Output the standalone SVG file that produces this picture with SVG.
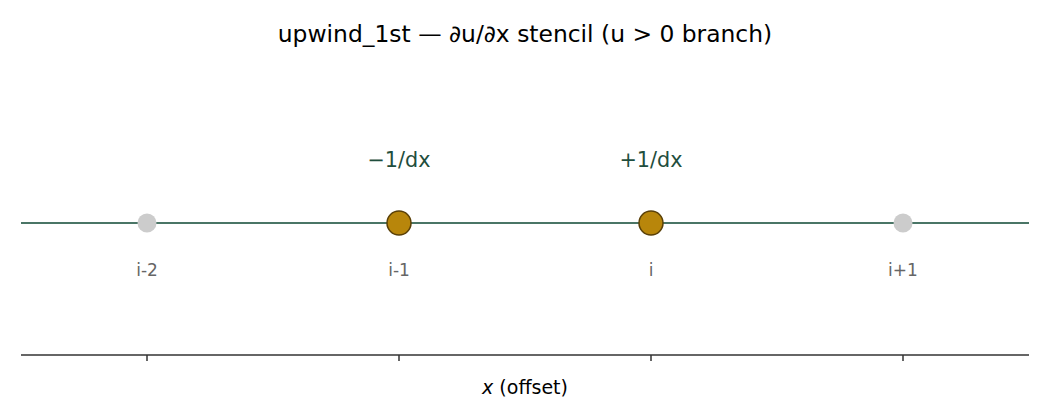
<svg xmlns="http://www.w3.org/2000/svg" width="1050" height="420" viewBox="0 0 1050 420">
<style>
text{font-family:"DejaVu Sans",sans-serif}
.title{font-size:23.4px;fill:#000}
.coef{font-size:20.8px;fill:#1f4e3d}
.lab{font-size:17px;fill:#666}
.ax{font-size:19px;fill:#000}
.gray{fill:#cccccc}
.act{fill:#b8860b;stroke:#5a4008;stroke-width:1.5}
</style>
<rect width="1050" height="420" fill="#fff"/>
<text class="title" x="525" y="42" text-anchor="middle">upwind_1st — ∂u/∂x stencil (u &gt; 0 branch)</text>
<g id="connectors">
<line x1="21" y1="223" x2="1029" y2="223" stroke="#4a7566" stroke-width="1.8"/>
</g>
<g id="node-i-2"><circle class="gray" cx="147" cy="223" r="9.5"/><text class="lab" x="147" y="276" text-anchor="middle">i-2</text></g>
<g id="node-i-1"><circle class="act" cx="399" cy="223" r="12"/><text class="coef" x="399" y="167" text-anchor="middle">−1/dx</text><text class="lab" x="399" y="276" text-anchor="middle">i-1</text></g>
<g id="node-i"><circle class="act" cx="651" cy="223" r="12"/><text class="coef" x="651" y="167" text-anchor="middle">+1/dx</text><text class="lab" x="651" y="276" text-anchor="middle">i</text></g>
<g id="node-i+1"><circle class="gray" cx="903" cy="223" r="9.5"/><text class="lab" x="903" y="276" text-anchor="middle">i+1</text></g>
<g id="axis" stroke="#333" stroke-width="1.5">
<line x1="21" y1="355" x2="1029" y2="355"/>
<line x1="147" y1="355" x2="147" y2="361"/>
<line x1="399" y1="355" x2="399" y2="361"/>
<line x1="651" y1="355" x2="651" y2="361"/>
<line x1="903" y1="355" x2="903" y2="361"/>
</g>
<text class="ax" x="525" y="394" text-anchor="middle"><tspan font-style="italic">x</tspan> (offset)</text>
</svg>
